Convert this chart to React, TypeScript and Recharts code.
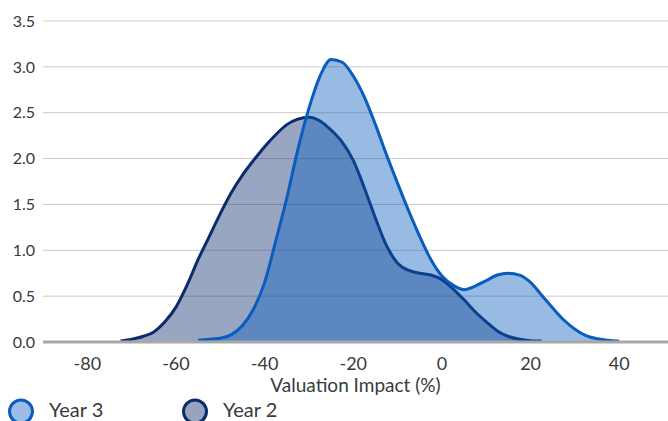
import { AreaChart, Area, XAxis, YAxis, CartesianGrid, Legend, Label } from 'recharts';

// valuation impact (%) sample points
const impact = [
  -72.5, -70, -67.5, -65, -62.5, -60, -57.5, -55, -52.5, -50, -47.5, -45, -42.5, -40, -37.5, -35,
  -32.5, -30, -27.5, -25, -22.5, -20, -17.5, -15, -12.5, -10, -7.5, -5, -2.5, 0, 2.5, 5, 7.5, 10,
  12.5, 15, 17.5, 20, 22.5, 25, 27.5, 30, 32.5, 35, 37.5, 40,
];

const year2 = [
  0.01, 0.03, 0.06, 0.11, 0.22, 0.38, 0.62, 0.9, 1.15, 1.4, 1.63, 1.82, 1.98, 2.13, 2.26, 2.37,
  2.43, 2.45, 2.41, 2.31, 2.18, 1.98, 1.68, 1.35, 1.05, 0.86, 0.78, 0.75, 0.73, 0.68, 0.58, 0.46,
  0.33, 0.22, 0.12, 0.06, 0.03, 0.015, 0.01, null, null, null, null, null, null, null,
];

const year3 = [
  null, null, null, null, null, null, null, 0.02, 0.03, 0.04, 0.08, 0.18, 0.36, 0.65, 1.1, 1.57,
  2.1, 2.55, 2.9, 3.08, 3.05, 2.9, 2.67, 2.37, 2.04, 1.73, 1.43, 1.15, 0.9, 0.72, 0.62, 0.57,
  0.61, 0.67, 0.73, 0.75, 0.73, 0.65, 0.51, 0.37, 0.24, 0.14, 0.07, 0.035, 0.02, 0.01,
];

const xTicks = [-80, -60, -40, -20, 0, 20, 40];
const yTicks = [0, 0.5, 1, 1.5, 2, 2.5, 3, 3.5];

const data = impact.map((x, i) => ({ x, year2: year2[i], year3: year3[i] }));

const BLUE = '#0a5cbf';
const NAVY = '#0b2c6c';
const FONT = 'Lato, sans-serif';
const TEXT = '#3a3a3a';

function LegendContent() {
  const items = [
    { label: 'Year 3', stroke: BLUE, fill: '#9bbde3', x: 0 },
    { label: 'Year 2', stroke: NAVY, fill: '#98a4bc', x: 174 },
  ];
  return (
    <div style={{ position: 'relative', height: 26, fontFamily: FONT, fontSize: 20, lineHeight: '20px', color: TEXT }}>
      {items.map((it) => (
        <div key={it.label} style={{ position: 'absolute', left: it.x, top: 0 }}>
          <svg width={48} height={30} style={{ position: 'absolute', left: 0, top: 0 }}>
            <circle cx={21} cy={16.5} r={11.5} fill={it.fill} stroke={it.stroke} strokeWidth={3} />
          </svg>
          <span style={{ position: 'absolute', left: 49, top: 4, whiteSpace: 'nowrap' }}>{it.label}</span>
        </div>
      ))}
    </div>
  );
}

export default function App() {
  return (
    <div style={{ position: 'fixed', left: 0, top: 0, width: 668, height: 421, background: '#fff', overflow: 'hidden' }}>
      <AreaChart width={668} height={421} data={data} margin={{ top: 21, right: 0, bottom: 1, left: 0 }}>
        <CartesianGrid vertical={false} stroke="#c9c9c9" strokeWidth={1} />
        <XAxis
          dataKey="x"
          type="number"
          domain={[-90, 51]}
          ticks={xTicks}
          allowDataOverflow
          height={52}
          tickLine={false}
          tickMargin={9}
          axisLine={{ stroke: '#a8a8a8', strokeWidth: 3 }}
          tick={{ fill: TEXT, fontSize: 18, fontFamily: FONT }}
        >
          <Label value="Valuation Impact (%)" position="insideBottom" offset={2} fill={TEXT} fontSize={19} fontFamily={FONT} />
        </XAxis>
        <YAxis
          width={43}
          domain={[0, 3.5]}
          ticks={yTicks}
          tickLine={false}
          axisLine={false}
          tickFormatter={(v: number) => v.toFixed(1)}
          tick={{ fill: TEXT, fontSize: 16, fontFamily: FONT }}
        />
        <Area
          type="monotone"
          dataKey="year2"
          name="Year 2"
          stroke={NAVY}
          strokeWidth={3}
          fill={NAVY}
          fillOpacity={0.42}
          isAnimationActive={false}
        />
        <Area
          type="monotone"
          dataKey="year3"
          name="Year 3"
          stroke={BLUE}
          strokeWidth={3}
          fill={BLUE}
          fillOpacity={0.42}
          isAnimationActive={false}
        />
        <Legend content={<LegendContent />} wrapperStyle={{ left: 0, width: 668, bottom: 0 }} />
      </AreaChart>
    </div>
  );
}
